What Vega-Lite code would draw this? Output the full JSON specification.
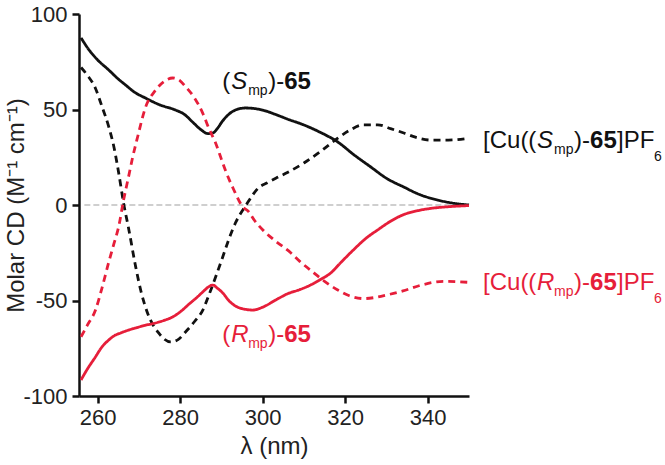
{
  "$schema": "https://vega.github.io/schema/vega-lite/v6.json",
  "width": 390,
  "height": 382,
  "autosize": {"type": "none"},
  "padding": {"left": 79, "top": 14, "right": 196, "bottom": 69},
  "background": "white",
  "config": {"view": {"stroke": null}, "font": "Liberation Sans"},
  "datasets": {
    "cd": [
      {"s":"S","x":256,"y":87.5},{"s":"S","x":258,"y":81},{"s":"S","x":260,"y":76},{"s":"S","x":262.7,"y":70.7},{"s":"S","x":265,"y":66},{"s":"S","x":266.8,"y":62.8},{"s":"S","x":269,"y":59},{"s":"S","x":271.6,"y":56},{"s":"S","x":275,"y":52.5},{"s":"S","x":278.9,"y":49.7},{"s":"S","x":281,"y":47.5},{"s":"S","x":283,"y":43.5},{"s":"S","x":285,"y":39.5},{"s":"S","x":286.7,"y":37.4},{"s":"S","x":288,"y":37.8},{"s":"S","x":289,"y":40},{"s":"S","x":290.3,"y":44},{"s":"S","x":291.8,"y":47.5},{"s":"S","x":294,"y":50.2},{"s":"S","x":295.9,"y":50.8},{"s":"S","x":298,"y":50.5},{"s":"S","x":300,"y":49.7},{"s":"S","x":303,"y":47.5},{"s":"S","x":306,"y":45},{"s":"S","x":310,"y":41.9},{"s":"S","x":314,"y":38},{"s":"S","x":318.2,"y":33},{"s":"S","x":322,"y":26.5},{"s":"S","x":326.2,"y":19.9},{"s":"S","x":330,"y":14},{"s":"S","x":334.2,"y":9.4},{"s":"S","x":338,"y":5.5},{"s":"S","x":342.4,"y":2.6},{"s":"S","x":346,"y":1},{"s":"S","x":350,"y":0},
      {"s":"CuS","x":256,"y":72},{"s":"CuS","x":257.5,"y":68},{"s":"CuS","x":259.5,"y":61},{"s":"CuS","x":261,"y":52},{"s":"CuS","x":262.7,"y":41},{"s":"CuS","x":264,"y":30},{"s":"CuS","x":265.1,"y":17},{"s":"CuS","x":266.3,"y":1},{"s":"CuS","x":267.5,"y":-12},{"s":"CuS","x":269.2,"y":-32},{"s":"CuS","x":270.5,"y":-45},{"s":"CuS","x":272.1,"y":-56.5},{"s":"CuS","x":274.8,"y":-67},{"s":"CuS","x":277.7,"y":-71.7},{"s":"CuS","x":279.5,"y":-70.5},{"s":"CuS","x":281.3,"y":-66.5},{"s":"CuS","x":283.5,"y":-61},{"s":"CuS","x":285.5,"y":-55},{"s":"CuS","x":287,"y":-47},{"s":"CuS","x":288.6,"y":-37.7},{"s":"CuS","x":290.2,"y":-28},{"s":"CuS","x":291.8,"y":-18},{"s":"CuS","x":293.5,"y":-9},{"s":"CuS","x":295.2,"y":-2.6},{"s":"CuS","x":296,"y":0},{"s":"CuS","x":297.5,"y":5},{"s":"CuS","x":299,"y":9},{"s":"CuS","x":301,"y":11.5},{"s":"CuS","x":303.2,"y":14},{"s":"CuS","x":306,"y":17},{"s":"CuS","x":310,"y":22},{"s":"CuS","x":314,"y":28},{"s":"CuS","x":318.2,"y":35},{"s":"CuS","x":321,"y":39},{"s":"CuS","x":324.5,"y":42},{"s":"CuS","x":327.9,"y":42},{"s":"CuS","x":331,"y":40},{"s":"CuS","x":334.2,"y":37.7},{"s":"CuS","x":337,"y":35.5},{"s":"CuS","x":340.7,"y":34},{"s":"CuS","x":345,"y":34},{"s":"CuS","x":350,"y":35},
      {"s":"CuR","x":256,"y":-69},{"s":"CuR","x":257.5,"y":-63},{"s":"CuR","x":259.5,"y":-55},{"s":"CuR","x":261,"y":-44},{"s":"CuR","x":262.7,"y":-30},{"s":"CuR","x":264,"y":-20},{"s":"CuR","x":265.1,"y":-11.5},{"s":"CuR","x":266.3,"y":2.6},{"s":"CuR","x":267.5,"y":14.7},{"s":"CuR","x":268.5,"y":25},{"s":"CuR","x":269.7,"y":35.6},{"s":"CuR","x":271.6,"y":51},{"s":"CuR","x":274,"y":60},{"s":"CuR","x":276,"y":64.5},{"s":"CuR","x":278.2,"y":66.5},{"s":"CuR","x":280,"y":65},{"s":"CuR","x":281.3,"y":62},{"s":"CuR","x":283.5,"y":56},{"s":"CuR","x":285.5,"y":48},{"s":"CuR","x":287,"y":40},{"s":"CuR","x":288.6,"y":32.5},{"s":"CuR","x":290,"y":24},{"s":"CuR","x":291,"y":18},{"s":"CuR","x":293,"y":8},{"s":"CuR","x":295.2,"y":-1},{"s":"CuR","x":296.6,"y":-3.5},{"s":"CuR","x":298,"y":-8},{"s":"CuR","x":300,"y":-13},{"s":"CuR","x":303.2,"y":-19},{"s":"CuR","x":306.8,"y":-25},{"s":"CuR","x":309,"y":-29.5},{"s":"CuR","x":312.4,"y":-35.5},{"s":"CuR","x":315,"y":-40},{"s":"CuR","x":318.2,"y":-44.5},{"s":"CuR","x":321,"y":-47.5},{"s":"CuR","x":324.5,"y":-49},{"s":"CuR","x":327,"y":-48.5},{"s":"CuR","x":330.3,"y":-47},{"s":"CuR","x":334,"y":-45},{"s":"CuR","x":338.3,"y":-42},{"s":"CuR","x":343.9,"y":-40},{"s":"CuR","x":350,"y":-40.5},
      {"s":"R","x":256,"y":-91.6},{"s":"R","x":257.5,"y":-86},{"s":"R","x":259.5,"y":-79.5},{"s":"R","x":261,"y":-74.5},{"s":"R","x":262.7,"y":-70.7},{"s":"R","x":264,"y":-68.5},{"s":"R","x":265.6,"y":-67},{"s":"R","x":267.5,"y":-65.5},{"s":"R","x":269.2,"y":-64.4},{"s":"R","x":271.5,"y":-63},{"s":"R","x":274,"y":-61.8},{"s":"R","x":276,"y":-60.5},{"s":"R","x":278.2,"y":-58.6},{"s":"R","x":280,"y":-56},{"s":"R","x":282.1,"y":-52},{"s":"R","x":284,"y":-48.5},{"s":"R","x":285.5,"y":-45.5},{"s":"R","x":286.8,"y":-43},{"s":"R","x":287.9,"y":-41.9},{"s":"R","x":289,"y":-43.5},{"s":"R","x":290.3,"y":-46},{"s":"R","x":292,"y":-50.5},{"s":"R","x":293.5,"y":-53},{"s":"R","x":295.5,"y":-54.5},{"s":"R","x":297.6,"y":-55},{"s":"R","x":300,"y":-53.5},{"s":"R","x":303.2,"y":-49.7},{"s":"R","x":306,"y":-46.5},{"s":"R","x":309,"y":-44.3},{"s":"R","x":311.6,"y":-41.9},{"s":"R","x":314,"y":-39},{"s":"R","x":316.5,"y":-35.6},{"s":"R","x":319,"y":-30},{"s":"R","x":322,"y":-23.5},{"s":"R","x":325,"y":-17.5},{"s":"R","x":327.9,"y":-13},{"s":"R","x":331,"y":-8.5},{"s":"R","x":334.2,"y":-5},{"s":"R","x":337.5,"y":-3},{"s":"R","x":340.7,"y":-1.8},{"s":"R","x":345,"y":-0.9},{"s":"R","x":350,"y":-0.3}
    ],
    "zero": [{"x": 256.8, "x2": 350, "y": 0}],
    "labs": [
      {"k": "SR", "x": 290.2, "y": 60.7, "c": "S", "L": "S"},
      {"k": "SR", "x": 290.2, "y": -71.7, "c": "R", "L": "R"},
      {"k": "Cu", "x": 353.4, "y": 29.8, "c": "CuS", "L": "S"},
      {"k": "Cu", "x": 353.4, "y": -44.5, "c": "CuR", "L": "R"}
    ]
  },
  "encoding": {
    "x": {"field": "x", "type": "quantitative", "scale": {"domain": [255.5, 350], "nice": false, "zero": false},
      "axis": {"values": [260, 280, 300, 320, 340], "title": "λ (nm)", "grid": false, "domainColor": "#111", "domainWidth": 2.5, "tickColor": "#111", "tickWidth": 2.5, "tickSize": 7, "labelFontSize": 22, "labelColor": "#222", "labelPadding": 4, "titleFontSize": 24, "titleFontWeight": "normal", "titleColor": "#222", "titlePadding": 6}},
    "y": {"field": "y", "type": "quantitative", "scale": {"domain": [-100, 100], "nice": false},
      "axis": {"values": [-100, -50, 0, 50, 100], "labelExpr": "'' + datum.value", "title": "Molar CD (M⁻¹ cm⁻¹)", "grid": false, "domainColor": "#111", "domainWidth": 2.5, "tickColor": "#111", "tickWidth": 2.5, "tickSize": 7, "labelFontSize": 22, "labelColor": "#222", "labelPadding": 5, "titleFontSize": 24, "titleFontWeight": "normal", "titleColor": "#222", "titleX": -56, "titleY": 191, "titleBaseline": "alphabetic", "titleAngle": -90}},
    "color": {"field": "c", "type": "nominal", "scale": {"domain": ["S", "R", "CuS", "CuR"], "range": ["#111111", "#e61e3a", "#111111", "#e61e3a"]}, "legend": null}
  },
  "layer": [
    {"data": {"name": "zero"}, "mark": {"type": "rule", "color": "#cfcfcf", "strokeWidth": 2, "strokeDash": [6, 3]},
      "encoding": {"x": {"field": "x", "type": "quantitative"}, "x2": {"field": "x2"}, "y": {"field": "y", "type": "quantitative"}, "color": {"value": "#cfcfcf"}}},
    {"data": {"name": "cd"}, "mark": {"type": "line", "interpolate": "monotone", "strokeWidth": 2.8},
      "encoding": {"color": {"field": "s", "type": "nominal", "legend": null},
        "strokeDash": {"field": "s", "type": "nominal", "scale": {"domain": ["S", "R", "CuS", "CuR"], "range": [[1, 0], [1, 0], [7, 5], [7, 5]]}, "legend": null},
        "detail": {"field": "s"}}},
    {"data": {"name": "labs"}, "transform": [{"filter": "datum.k == 'SR'"}], "mark": {"type": "text", "align": "left", "baseline": "alphabetic", "fontSize": 24, "dx": 0}, "encoding": {"text": {"value": "("}}},
    {"data": {"name": "labs"}, "transform": [{"filter": "datum.k == 'SR'"}], "mark": {"type": "text", "align": "left", "baseline": "alphabetic", "fontSize": 24, "fontStyle": "italic", "dx": 9}, "encoding": {"text": {"field": "L"}}},
    {"data": {"name": "labs"}, "transform": [{"filter": "datum.k == 'SR'"}], "mark": {"type": "text", "align": "left", "baseline": "alphabetic", "fontSize": 14, "dx": 26, "dy": 6}, "encoding": {"text": {"value": "mp"}}},
    {"data": {"name": "labs"}, "transform": [{"filter": "datum.k == 'SR'"}], "mark": {"type": "text", "align": "left", "baseline": "alphabetic", "fontSize": 24, "dx": 46}, "encoding": {"text": {"value": ")-"}}},
    {"data": {"name": "labs"}, "transform": [{"filter": "datum.k == 'SR'"}], "mark": {"type": "text", "align": "left", "baseline": "alphabetic", "fontSize": 24, "fontWeight": "bold", "dx": 62}, "encoding": {"text": {"value": "65"}}},
    {"data": {"name": "labs"}, "transform": [{"filter": "datum.k == 'Cu'"}], "mark": {"type": "text", "align": "left", "baseline": "alphabetic", "fontSize": 24, "dx": 0}, "encoding": {"text": {"value": "[Cu(("}}},
    {"data": {"name": "labs"}, "transform": [{"filter": "datum.k == 'Cu'"}], "mark": {"type": "text", "align": "left", "baseline": "alphabetic", "fontSize": 24, "fontStyle": "italic", "dx": 54}, "encoding": {"text": {"field": "L"}}},
    {"data": {"name": "labs"}, "transform": [{"filter": "datum.k == 'Cu'"}], "mark": {"type": "text", "align": "left", "baseline": "alphabetic", "fontSize": 14, "dx": 71, "dy": 6}, "encoding": {"text": {"value": "mp"}}},
    {"data": {"name": "labs"}, "transform": [{"filter": "datum.k == 'Cu'"}], "mark": {"type": "text", "align": "left", "baseline": "alphabetic", "fontSize": 24, "dx": 91}, "encoding": {"text": {"value": ")-"}}},
    {"data": {"name": "labs"}, "transform": [{"filter": "datum.k == 'Cu'"}], "mark": {"type": "text", "align": "left", "baseline": "alphabetic", "fontSize": 24, "fontWeight": "bold", "dx": 107}, "encoding": {"text": {"value": "65"}}},
    {"data": {"name": "labs"}, "transform": [{"filter": "datum.k == 'Cu'"}], "mark": {"type": "text", "align": "left", "baseline": "alphabetic", "fontSize": 24, "dx": 134}, "encoding": {"text": {"value": "]PF"}}},
    {"data": {"name": "labs"}, "transform": [{"filter": "datum.k == 'Cu'"}], "mark": {"type": "text", "align": "left", "baseline": "alphabetic", "fontSize": 14, "dx": 171, "dy": 13}, "encoding": {"text": {"value": "6"}}}
  ]
}
